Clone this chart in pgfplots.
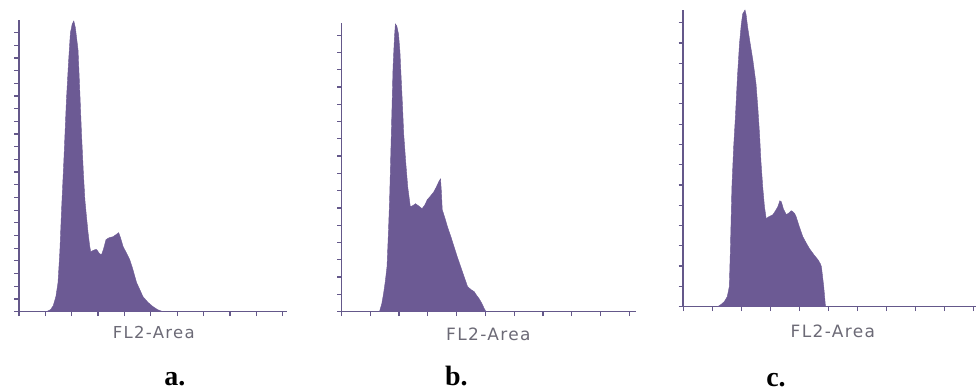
\documentclass[border=0pt]{standalone}
\usepackage{pgfplots}
\pgfplotsset{compat=1.18}
\usepackage{fontspec}
\setmainfont{Liberation Serif}
\newfontfamily\labfont[LetterSpace=8]{DejaVu Sans}
\definecolor{fillc}{RGB}{108,90,148}
\definecolor{axc}{RGB}{100,88,138}
\definecolor{txtc}{RGB}{108,106,118}
\pgfplotsset{
  histo/.style={
    scale only axis,
    axis x line*=bottom, axis y line*=left,
    axis line style={axc, line width=1.6pt, -},
    tick align=outside,
    major tick length=4.5pt,
    tick style={axc, line width=1.2pt},
    xticklabels={}, yticklabels={},
    xmin=0, ymin=0,
    xtick={0,1,...,10},
    clip=false,
  }
}
\begin{document}
\begin{tikzpicture}[x=1pt,y=1pt]
\path (0,0) rectangle (977,392);
% panel a
\begin{axis}[histo, at={(19pt,80pt)}, anchor=south west,
  width=268pt, height=292pt, xmax=10.15, ymax=292, ytick distance=12.7]
\addplot[fill=fillc, draw=fillc, line width=0.4pt] coordinates {
(1.00,0) (1.05,0) (1.2,2) (1.3,6) (1.4,15) (1.48,29) (1.55,60) (1.62,105) (1.7,150) (1.8,212) (1.88,250) (1.95,279) (2.02,288) (2.08,291) (2.14,284) (2.24,262) (2.3,225) (2.37,179) (2.44,140) (2.5,112) (2.56,95) (2.62,79) (2.68,66) (2.72,60) (2.8,61) (2.88,62) (2.95,62) (3.05,58) (3.13,57) (3.2,62) (3.3,72) (3.42,74) (3.57,75) (3.68,77) (3.78,79) (3.85,74) (3.95,65) (4.05,60) (4.2,52) (4.3,44) (4.46,29) (4.6,21) (4.7,15) (4.9,9) (5.08,5) (5.25,2) (5.45,0)
} \closedcycle;
\end{axis}
\node[font=\labfont\fontsize{16.5}{18}\selectfont, text=txtc, anchor=base] at (154,392-339) {FL2-Area};
\node[font=\bfseries\fontsize{28}{30}\selectfont, anchor=base] at (175,392-386) {a.};
% panel b
\begin{axis}[histo, at={(342pt,80pt)}, anchor=south west,
  width=295pt, height=289pt, xmax=10.24, ymax=289, ytick distance=17.3]
\addplot[fill=fillc, draw=fillc, line width=0.4pt] coordinates {
(1.32,0) (1.4,8) (1.46,18) (1.52,30) (1.58,45) (1.63,80) (1.67,112) (1.73,178) (1.79,245) (1.84,275) (1.87,288) (1.92,286) (1.98,278) (2.03,260) (2.07,235) (2.12,205) (2.16,178) (2.23,150) (2.3,125) (2.39,105) (2.47,106) (2.57,108) (2.67,106) (2.8,103) (2.9,107) (2.98,112) (3.1,116) (3.21,120) (3.3,125) (3.38,130) (3.44,133) (3.47,120) (3.5,102) (3.6,93) (3.68,85) (3.8,75) (3.91,65) (4.02,55) (4.14,45) (4.26,35) (4.38,25) (4.5,22) (4.61,20) (4.7,16) (4.78,13) (4.88,8) (4.96,3) (5.02,0)
} \closedcycle;
\end{axis}
\node[font=\labfont\fontsize{17}{19}\selectfont, text=txtc, anchor=base] at (489,392-341) {FL2-Area};
\node[font=\bfseries\fontsize{28}{30}\selectfont, anchor=base] at (457,392-386) {b.};
% panel c
\begin{axis}[histo, at={(684pt,85pt)}, anchor=south west,
  width=293pt, height=297pt, xmax=10.07, ymax=297, ytick distance=20.3]
\addplot[fill=fillc, draw=fillc, line width=0.4pt] coordinates {
(1.19,0) (1.3,2) (1.42,5) (1.52,10) (1.59,20) (1.63,60) (1.68,120) (1.74,160) (1.8,190) (1.87,230) (1.94,263) (2.0,282) (2.05,293) (2.13,297) (2.17,292) (2.22,280) (2.3,265) (2.4,247) (2.51,223) (2.57,200) (2.63,173) (2.68,145) (2.74,120) (2.8,100) (2.86,88) (2.95,90) (3.09,92) (3.18,96) (3.26,100) (3.33,106) (3.38,105) (3.45,98) (3.55,92) (3.65,94) (3.72,96) (3.78,95) (3.84,93) (3.89,90) (4.0,80) (4.12,70) (4.25,63) (4.35,58) (4.5,52) (4.64,47) (4.72,43) (4.76,40) (4.8,30) (4.84,20) (4.87,10) (4.9,0)
} \closedcycle;
\end{axis}
\node[font=\labfont\fontsize{17}{19}\selectfont, text=txtc, anchor=base] at (834,392-338) {FL2-Area};
\node[font=\bfseries\fontsize{28}{30}\selectfont, anchor=base] at (777,392-387) {c.};
\end{tikzpicture}
\end{document}
